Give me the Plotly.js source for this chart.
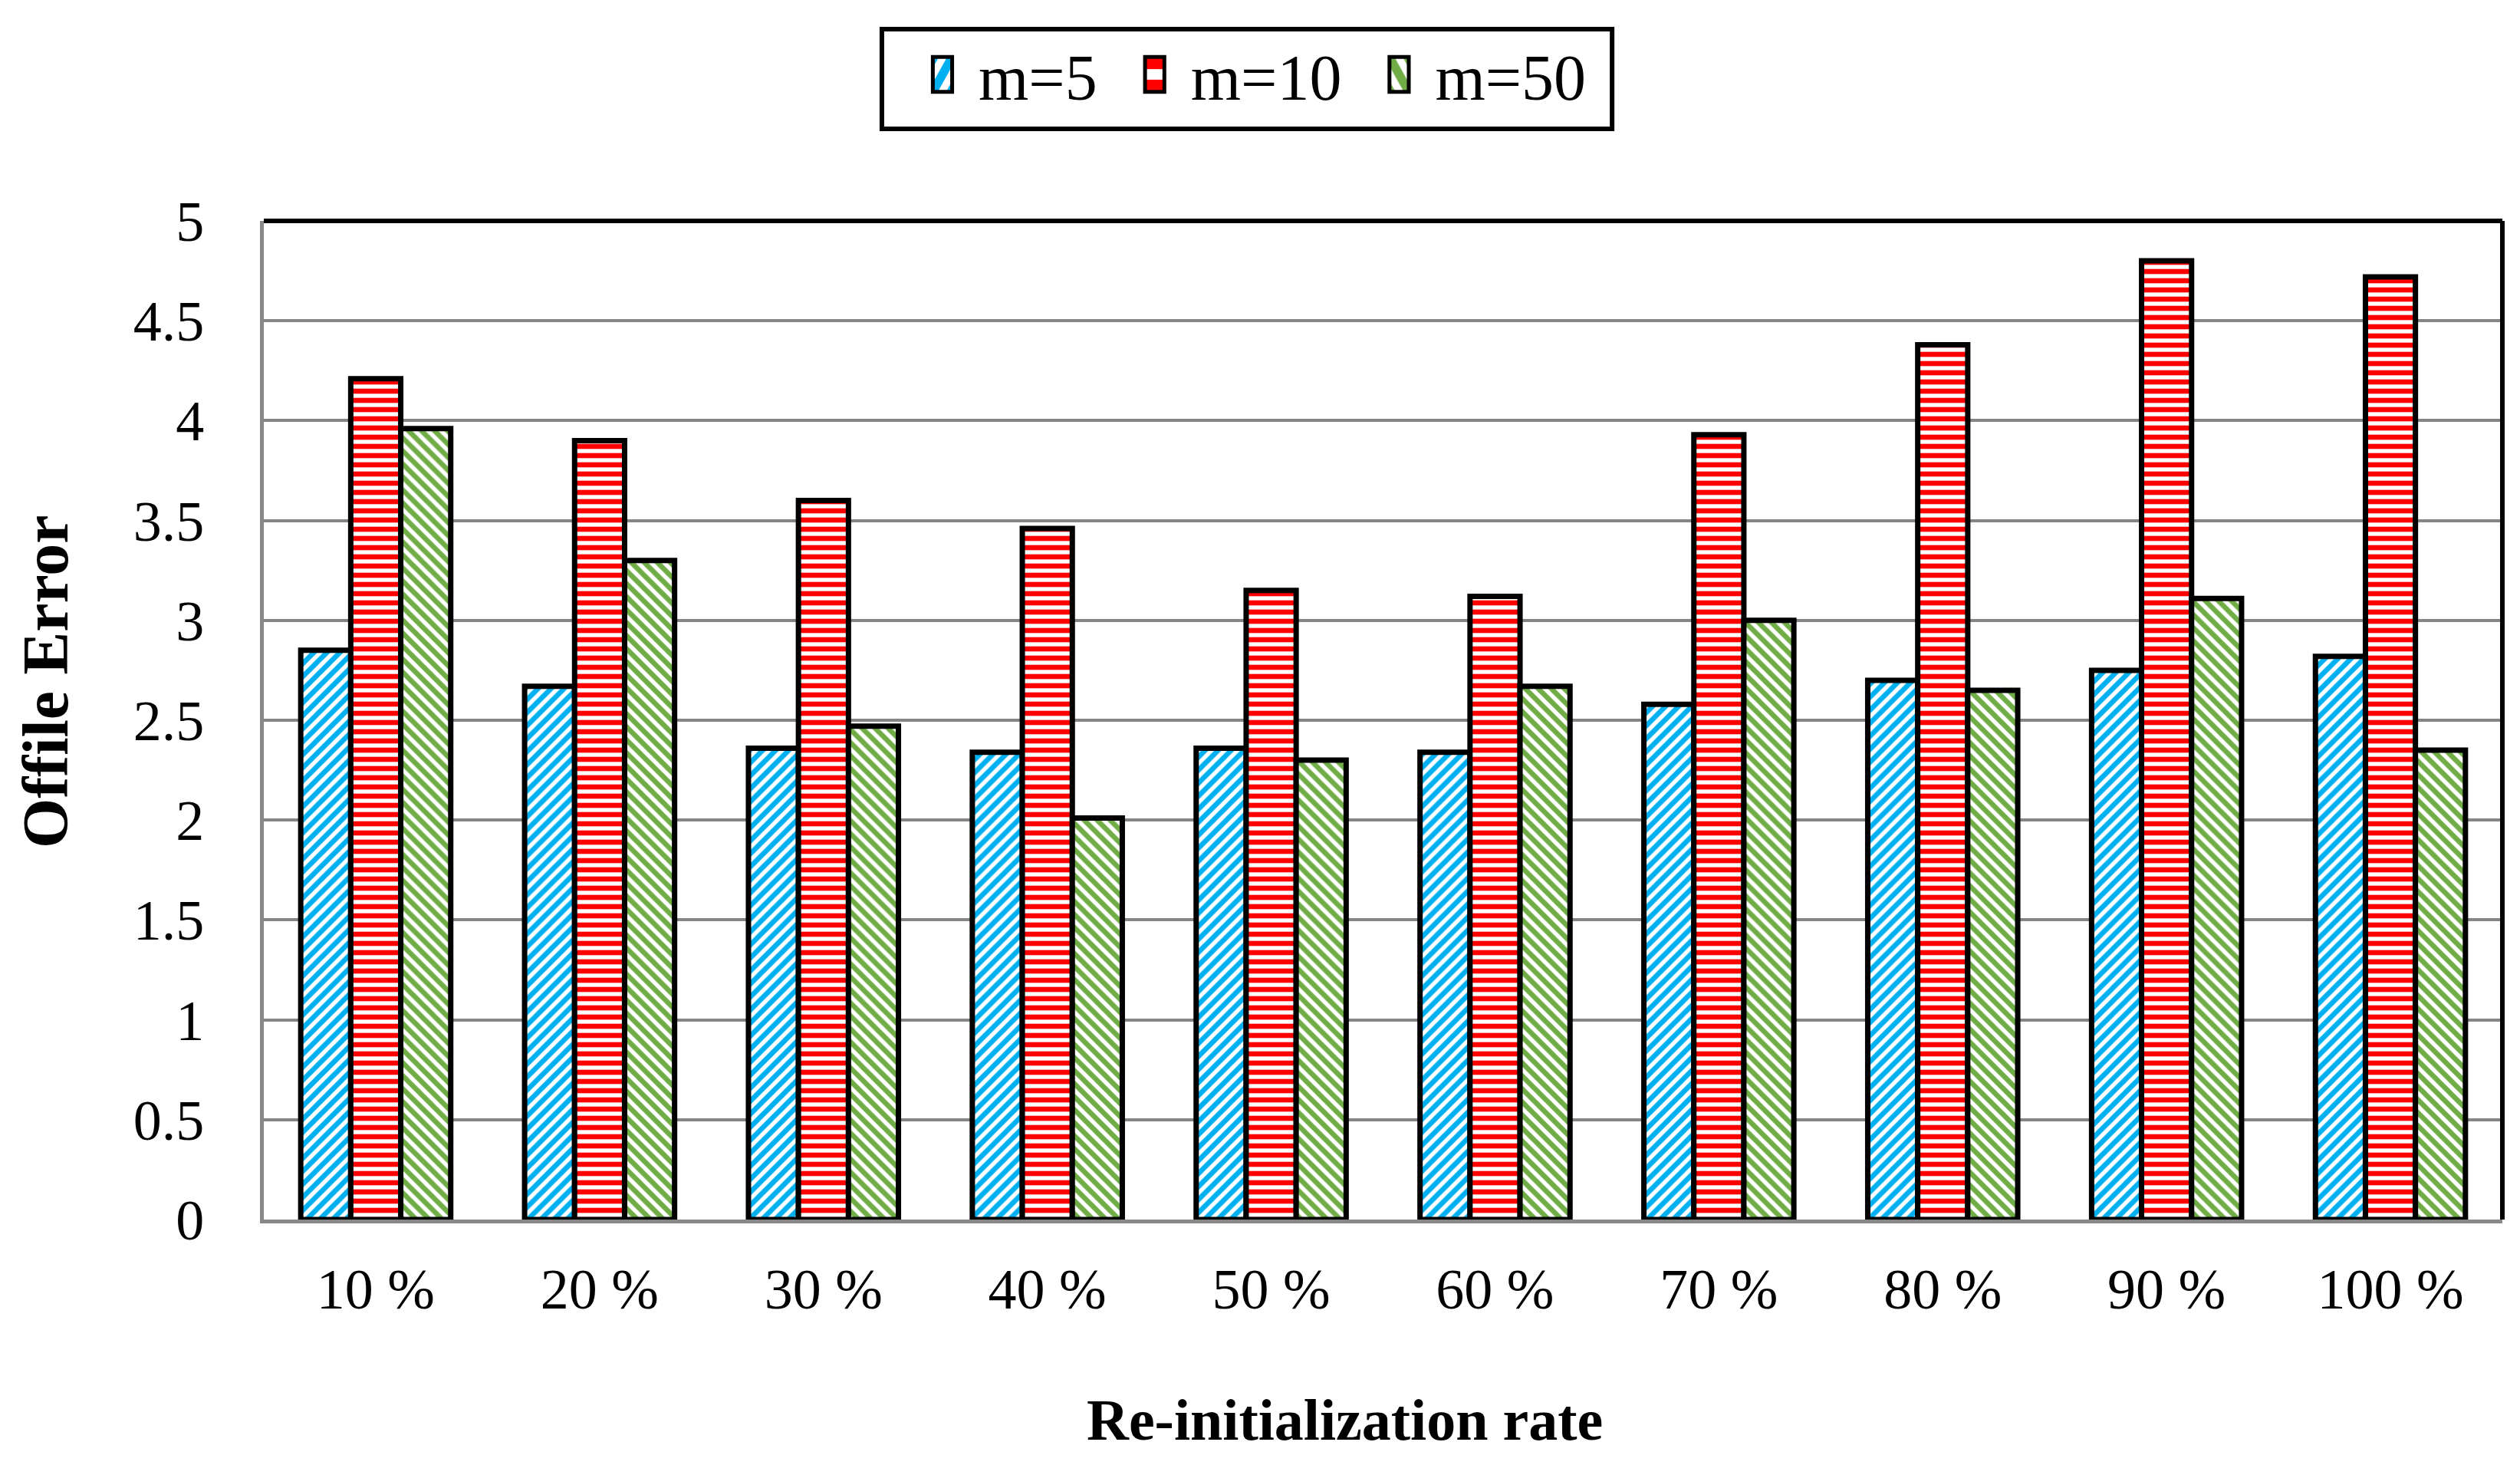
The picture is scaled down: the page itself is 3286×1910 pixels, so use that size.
<!DOCTYPE html>
<html>
<head>
<meta charset="utf-8">
<script src="https://cdn.plot.ly/plotly-3.0.1.min.js"></script>
<style>
  html, body { margin: 0; padding: 0; background: #ffffff; }
  #chart { width: 3286px; height: 1910px; }
</style>
</head>
<body>
<div id="chart"></div>
<script>
// Categories (re-initialization rate)
const categories = ["10 %", "20 %", "30 %", "40 %", "50 %", "60 %", "70 %", "80 %", "90 %", "100 %"];

// Series values (Offile Error)
const m5  = [2.85, 2.67, 2.36, 2.34, 2.36, 2.34, 2.58, 2.70, 2.75, 2.82];
const m10 = [4.21, 3.90, 3.60, 3.46, 3.15, 3.12, 3.93, 4.38, 4.80, 4.72];
const m50 = [3.96, 3.30, 2.47, 2.01, 2.30, 2.67, 3.00, 2.65, 3.11, 2.35];

const seriesNames = ["m=5", "m=10", "m=50"];

// Y axis ticks
const yTickVals = [0, 0.5, 1, 1.5, 2, 2.5, 3, 3.5, 4, 4.5, 5];
const yTickText = ["0", "0.5", "1", "1.5", "2", "2.5", "3", "3.5", "4", "4.5", "5"];

// Axis titles
const xTitle = "Re-initialization rate";
const yTitle = "Offile Error";

const FONT = "Liberation Serif, Times New Roman, serif";

function barTrace(name, values, color, shape) {
  return {
    type: "bar",
    name: name,
    x: categories,
    y: values,
    marker: {
      color: "#ffffff",
      line: { color: "#000000", width: 7 },
      pattern: { shape: shape, fgcolor: color, fgopacity: 1, bgcolor: "#ffffff", size: 12, solidity: 0.55, fillmode: "replace" }
    },
    hoverinfo: "x+y+name"
  };
}

const data = [
  barTrace(seriesNames[0], m5, "#00B0F0", "/"),
  barTrace(seriesNames[1], m10, "#FF0000", "-"),
  barTrace(seriesNames[2], m50, "#70AD47", "\\")
];

const layout = {
  width: 3286,
  height: 1910,
  paper_bgcolor: "#ffffff",
  plot_bgcolor: "#ffffff",
  font: { family: FONT, color: "#000000", size: 74 },
  margin: { l: 344, r: 23, t: 288, b: 320, pad: 0 },
  barmode: "group",
  bargap: 0.33,
  bargroupgap: 0,
  showlegend: true,
  legend: {
    orientation: "h",
    xref: "container",
    yref: "container",
    x: 0.3527,
    xanchor: "left",
    y: 0.949,
    yanchor: "middle",
    borderwidth: 0,
    bgcolor: "rgba(0,0,0,0)",
    font: { family: FONT, size: 84, color: "#000000" },
    itemwidth: 107,
    traceorder: "normal"
  },
  xaxis: {
    type: "category",
    showgrid: false,
    showline: true,
    linecolor: "#888888",
    linewidth: 5,
    ticks: "outside",
    ticklen: 22,
    tickcolor: "rgba(0,0,0,0)",
    tickfont: { family: FONT, size: 74, color: "#000000" },
    zeroline: false,
    automargin: false
  },
  yaxis: {
    range: [0, 5],
    tickvals: yTickVals,
    ticktext: yTickText,
    showgrid: true,
    gridcolor: "#858585",
    gridwidth: 4,
    showline: true,
    linecolor: "#888888",
    linewidth: 5,
    ticks: "outside",
    ticklen: 58,
    tickcolor: "rgba(0,0,0,0)",
    tickfont: { family: FONT, size: 74, color: "#000000" },
    zeroline: false,
    automargin: false
  },
  annotations: [
    { text: "<b>" + xTitle + "</b>", xref: "paper", yref: "paper", x: 0.4827, y: -0.2005,
      xanchor: "center", yanchor: "middle", showarrow: false,
      font: { family: FONT, size: 76, color: "#000000" } },
    { text: "<b>" + yTitle + "</b>", xref: "paper", yref: "paper", x: -0.0976, y: 0.5384,
      xanchor: "center", yanchor: "middle", showarrow: false, textangle: -90,
      font: { family: FONT, size: 84, color: "#000000" } }
  ],
  shapes: [
    // plot frame (top and right edges)
    { type: "line", xref: "paper", yref: "paper", x0: 0, x1: 1, y0: 1, y1: 1, line: { color: "#000000", width: 6 } },
    { type: "line", xref: "paper", yref: "paper", x0: 1, x1: 1, y0: 0, y1: 1, line: { color: "#000000", width: 6 } },
    // legend frame
    { type: "rect", xref: "paper", yref: "paper", x0: 0.2761, x1: 0.6023, y0: 1.0922, y1: 1.1920,
      line: { color: "#000000", width: 6 }, fillcolor: "rgba(0,0,0,0)" }
  ]
};

Plotly.newPlot("chart", data, layout, { staticPlot: true, displayModeBar: false }).then(function (gd) {
  gd.querySelectorAll(".legend .traces").forEach(function (tr) {
    const p = tr.querySelector(".legendpoints path");
    const t = tr.querySelector("text.legendtext");
    if (!p || !t) return;
    const base = p.getAttribute("transform") || "";
    p.setAttribute("transform", base + " scale(2.1,3.8)");
    p.setAttribute("vector-effect", "non-scaling-stroke");
    p.style.strokeWidth = "5px";
    p.style.stroke = "#000000";
    const pr = p.getBoundingClientRect();
    const trc = t.getBoundingClientRect();
    const dx = (trc.left - 47) - (pr.left + pr.right) / 2;
    p.setAttribute("transform", "translate(" + dx + ",0) " + base + " scale(2.1,3.8)");
  });
});
</script>
</body>
</html>
